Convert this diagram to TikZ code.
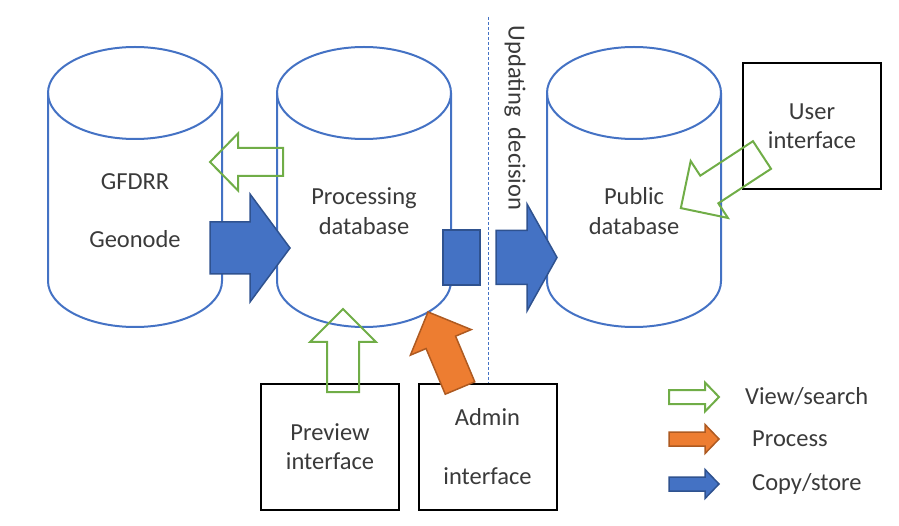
\documentclass[tikz,border=0pt]{standalone}
\usepackage{fontspec}
\setmainfont{Carlito}
\usepackage{tikz}
\usepackage{xcolor}

\definecolor{dbblue}{HTML}{4472C4}
\definecolor{dbdark}{HTML}{2F528F}
\definecolor{viewgreen}{HTML}{70AD47}
\definecolor{procorange}{HTML}{ED7D31}
\definecolor{procdark}{HTML}{AE5A21}
\definecolor{txtgray}{HTML}{3A3A3A}

% block arrow: style, tail x, tail y, angle, length, half shaft, half head, head length
\newcommand{\blockarrow}[8]{%
	\draw[#1, shift={(#2,#3)}, rotate=#4] (0,-#6) -- ({#5-#8},-#6) -- ({#5-#8},-#7) -- (#5,0)
		-- ({#5-#8},#7) -- ({#5-#8},#6) -- (0,#6) -- cycle;}

% cylinder: centre x, top y, bottom y
\newcommand{\database}[3]{%
	\draw[dbline] (#1,#2) ellipse (87 and 46);
	\draw[dbline] ({#1-87},#2) -- ({#1-87},#3) arc (180:360:87 and 46) -- ({#1+87},#2);}

\tikzset{
	dbline/.style={dbblue, line width=2pt},
	txt/.style={text=txtgray, font=\fontsize{24.5}{29.5}\selectfont, align=center, inner sep=0pt},
	iface/.style={draw=black, line width=2pt, minimum width=138pt, minimum height=126pt, txt},
	viewarrow/.style={draw=viewgreen, line width=2pt, line join=miter},
	procarrow/.style={draw=procdark, fill=procorange, line width=1.5pt, line join=miter},
	copyarrow/.style={draw=dbdark, fill=dbblue, line width=1.5pt, line join=miter},
}

\begin{document}
\begin{tikzpicture}[x=1pt, y=1pt]
	\useasboundingbox (0,0) rectangle (899,525);

	% databases
	\database{135}{432}{244}
	\database{364}{432}{244}
	\database{634}{432}{244}

	\node[txt, anchor=base] (gfdrr) at (135,335) {GFDRR};
	\node[txt, anchor=base] (geonode) at (135,277) {Geonode};
	\node[txt] (procdb) at (364,314) {Processing\\database};
	\node[txt] (pubdb) at (634,314) {Public\\database};

	% interfaces
	\node[iface] (user) at (812,399) {User\\interface};
	\node[iface] (preview) at (330,78.5) {Preview\\interface};
	\node[iface] (admin) at (487.5,78.5) {Admin\\[29.5pt]interface};

	% updating decision
	\draw[dbblue, line width=0.9pt, dash pattern=on 3pt off 2pt] (488,508) -- (admin.north -| 488,0);
	\node[txt, rotate=-90] (update) at (515,407) {Updating\ \ decision};

	% arrows between the parts
	\blockarrow{viewarrow}{283}{363}{180}{73}{14}{28.5}{28}
	\blockarrow{copyarrow}{210}{277}{0}{80}{26}{54}{40}
	\draw[copyarrow] (443,240) rectangle (480,295);
	\blockarrow{copyarrow}{496}{267.5}{0}{61}{27}{53.5}{30}
	\blockarrow{viewarrow}{343}{133}{90}{83}{16}{33}{33}
	\blockarrow{procarrow}{460}{137}{112.8}{82.5}{16}{33}{33}
	\blockarrow{viewarrow}{762}{370}{213.2}{97}{16.5}{34}{34}

	% legend
	\blockarrow{viewarrow}{669}{128}{0}{50}{7}{14.5}{14}
	\blockarrow{procarrow}{669}{86}{0}{50}{7}{14.5}{14}
	\blockarrow{copyarrow}{669}{41}{0}{50}{7}{14.5}{14}
	\node[txt, anchor=west] (view) at (745,128) {View/search};
	\node[txt, anchor=west] (process) at (752,86) {Process};
	\node[txt, anchor=west] (copy) at (752,41) {Copy/store};
\end{tikzpicture}
\end{document}
